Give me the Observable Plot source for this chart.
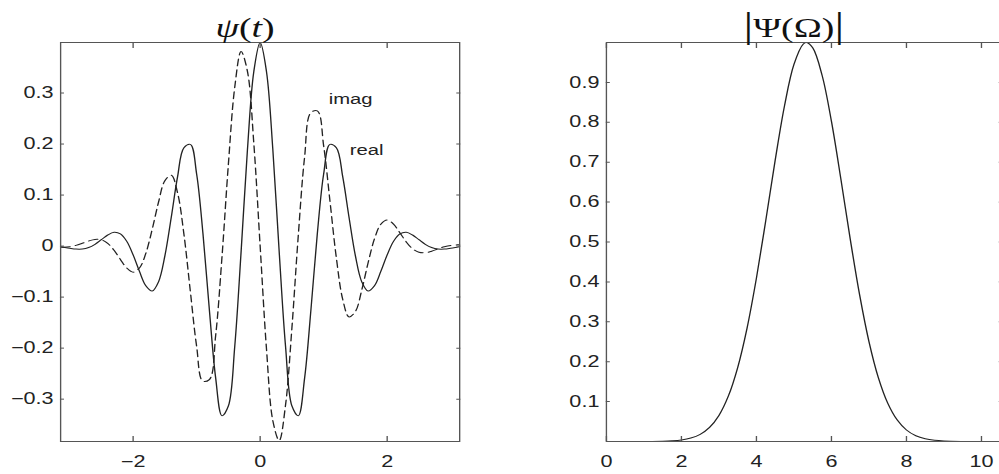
<!DOCTYPE html>
<html>
<head>
<meta charset="utf-8">
<script src="https://cdn.jsdelivr.net/npm/d3@7"></script>
<script src="https://cdn.jsdelivr.net/npm/@observablehq/plot@0.6"></script>
<style>
  html, body { margin: 0; padding: 0; background: #fff; overflow: hidden; width: 999px; height: 474px; }
  #wrap { position: absolute; left: 0; top: 0; width: 760px; height: 474px; transform: scaleX(1.35); transform-origin: 0 0; }
  #left, #right { position: absolute; top: 0; }
  #left { left: 0; }
  #right { left: 385.2px; }
  .title { position: absolute; width: 200px; text-align: center; white-space: nowrap;
           font-family: "Liberation Serif", "Times New Roman", serif; font-size: 28px; line-height: 28px; color: #111; }
  .bar { display: inline-block; font-size: 36px; line-height: 42px; }
</style>
</head>
<body>
<div id="wrap">
  <div id="left"></div>
  <div id="right"></div>
  <div class="title" style="left: 81.5px; top: 13.6px;"><i>ψ</i>(<i>t</i>)</div>
  <div class="title" style="left: 488px; top: 4px;"><span class="bar">|</span>Ψ(Ω)<span class="bar">|</span></div>
</div>
<script>
// ---- data ----
const tValues = [-3.14, -3.1, -3.0, -2.9, -2.8, -2.7, -2.6, -2.5, -2.4, -2.3, -2.2, -2.1, -2.0,
  -1.9, -1.8, -1.7, -1.6, -1.5, -1.4, -1.3, -1.2, -1.1, -1.0, -0.9, -0.8, -0.7, -0.6, -0.5,
  -0.4, -0.3, -0.2, -0.1, 0, 0.1, 0.2, 0.3, 0.4, 0.5, 0.6, 0.7, 0.8, 0.9, 1.0, 1.1, 1.2, 1.3,
  1.4, 1.5, 1.6, 1.7, 1.8, 1.9, 2.0, 2.1, 2.2, 2.3, 2.4, 2.5, 2.6, 2.7, 2.8, 2.9, 3.0, 3.1, 3.14];
const realValues = [-0.0014, -0.0022, -0.0042, -0.0058, -0.0057, -0.0028, 0.0035, 0.0125, 0.0217,
  0.0271, 0.0240, 0.0092, -0.0172, -0.0496, -0.0777, -0.0882, -0.0700, -0.0193, 0.0560, 0.1361,
  0.1928, 0.1994, 0.1413, 0.0239, -0.1243, -0.2588, -0.3326, -0.3133, -0.1967, -0.0114, 0.1887,
  0.3418, 0.3989, 0.3418, 0.1887, -0.0114, -0.1967, -0.3133, -0.3326, -0.2588, -0.1243, 0.0239,
  0.1413, 0.1994, 0.1928, 0.1361, 0.0560, -0.0193, -0.0700, -0.0882, -0.0777, -0.0496, -0.0172,
  0.0092, 0.0240, 0.0271, 0.0217, 0.0125, 0.0035, -0.0028, -0.0057, -0.0058, -0.0042, -0.0022, -0.0014];
const imagValues = [-0.0025, -0.0024, -0.0013, 0.0014, 0.0055, 0.0100, 0.0131, 0.0122, 0.0053,
  -0.0082, -0.0261, -0.0430, -0.0512, -0.0429, -0.0141, 0.0326, 0.0860, 0.1281, 0.1388, 0.1042,
  0.0232, -0.0875, -0.1965, -0.2650, -0.2617, -0.1746, -0.0200, 0.1606, 0.3113, 0.3812, 0.3424,
  0.2019, 0, -0.2019, -0.3424, -0.3812, -0.3113, -0.1606, 0.0200, 0.1746, 0.2617, 0.2650, 0.1965,
  0.0875, -0.0232, -0.1042, -0.1388, -0.1281, -0.0860, -0.0326, 0.0141, 0.0429, 0.0512, 0.0430,
  0.0261, 0.0082, -0.0053, -0.0122, -0.0131, -0.0100, -0.0055, -0.0014, 0.0013, 0.0024, 0.0025];
const omegaValues = [0, 0.5, 1, 1.5, 1.75, 2, 2.25, 2.5, 2.75, 3, 3.25, 3.5, 3.75, 4, 4.25, 4.5,
  4.75, 5, 5.25, 5.336, 5.5, 5.75, 6, 6.25, 6.5, 6.75, 7, 7.25, 7.5, 7.75, 8, 8.25, 8.5, 8.75, 9,
  9.5, 10, 10.55];
const magValues = [0, 0, 0.0001, 0.0006, 0.0016, 0.0038, 0.0086, 0.0179, 0.0353, 0.0653, 0.1135,
  0.1854, 0.2843, 0.4097, 0.5545, 0.7051, 0.8422, 0.9451, 0.9963, 1.0, 0.9866, 0.9179, 0.8022,
  0.6586, 0.5079, 0.3680, 0.2505, 0.1602, 0.0962, 0.0543, 0.0288, 0.0143, 0.0067, 0.0029, 0.0012,
  0.0002, 0, 0];
const timeTicks = [-2, 0, 2];
const ampTicks = [-0.3, -0.2, -0.1, 0, 0.1, 0.2, 0.3];
const freqTicks = [0, 2, 4, 6, 8, 10];
const magTicks = [0.1, 0.2, 0.3, 0.4, 0.5, 0.6, 0.7, 0.8, 0.9];
const curveLabels = ["imag", "real"];
const curveLabelT = [1.08, 1.41];
const curveLabelV = [0.288, 0.188];

// ---- drawing ----
const FONT = "'Liberation Sans', Arial, Helvetica, sans-serif";
const INK = "#222";
const FRAME = "#555";
const TXT = "#222";
const fmtDec = d => d === 0 ? "0" : d3.format(".1f")(d);
const fmtInt = d => d3.format("d")(d);
const blank = () => "";

const timeData = tValues.map((t, i) => ({t, re: realValues[i], im: imagValues[i]}));
const labelData = curveLabels.map((label, i) => ({label, t: curveLabelT[i], v: curveLabelV[i]}));
const freqData = omegaValues.map((w, i) => ({w, m: magValues[i]}));

function axes(xTicks, yTicks, xFmt, yFmt) {
  return [
    Plot.axisX({anchor: "bottom", ticks: xTicks, tickSize: -5, tickPadding: 19.4, tickFormat: xFmt,
      label: null, fontSize: 16, fontFamily: FONT, fill: TXT, stroke: FRAME}),
    Plot.axisX({anchor: "top", ticks: xTicks, tickSize: -5, tickFormat: blank, label: null, stroke: FRAME}),
    Plot.axisY({anchor: "left", ticks: yTicks, tickSize: -3, tickPadding: 8.2, tickFormat: yFmt,
      label: null, fontSize: 16, fontFamily: FONT, fill: TXT, stroke: FRAME}),
    Plot.axisY({anchor: "right", ticks: yTicks, tickSize: -3, tickFormat: blank, label: null, stroke: FRAME}),
    Plot.frame({stroke: FRAME, strokeWidth: 1})
  ];
}

const leftPlot = Plot.plot({
  width: 370, height: 474,
  marginLeft: 44.4, marginRight: 30, marginTop: 42, marginBottom: 33,
  style: {fontFamily: FONT, fontSize: "16px", color: TXT, background: "transparent"},
  x: {domain: [-3.1416, 3.1416], label: null},
  y: {domain: [-0.383, 0.399], label: null},
  marks: [
    Plot.line(timeData, {x: "t", y: "re", stroke: INK, strokeWidth: 1, curve: "catmull-rom"}),
    Plot.line(timeData, {x: "t", y: "im", stroke: INK, strokeWidth: 1, strokeDasharray: "7,4", curve: "catmull-rom"}),
    Plot.text(labelData, {x: "t", y: "v", text: "label", textAnchor: "start", lineAnchor: "middle",
      fontSize: 15, fontFamily: FONT, fill: TXT}),
    ...axes(timeTicks, ampTicks, fmtInt, fmtDec)
  ]
});
document.getElementById("left").appendChild(leftPlot);

const rightPlot = Plot.plot({
  width: 367, height: 474,
  marginLeft: 63.7, marginRight: 10.2, marginTop: 42, marginBottom: 33,
  style: {fontFamily: FONT, fontSize: "16px", color: TXT, background: "transparent"},
  x: {domain: [0, 10.55], label: null},
  y: {domain: [0, 1], label: null},
  marks: [
    Plot.line(freqData, {x: "w", y: "m", stroke: INK, strokeWidth: 1, curve: "catmull-rom"}),
    ...axes(freqTicks, magTicks, fmtInt, fmtDec)
  ]
});
document.getElementById("right").appendChild(rightPlot);
</script>
</body>
</html>
